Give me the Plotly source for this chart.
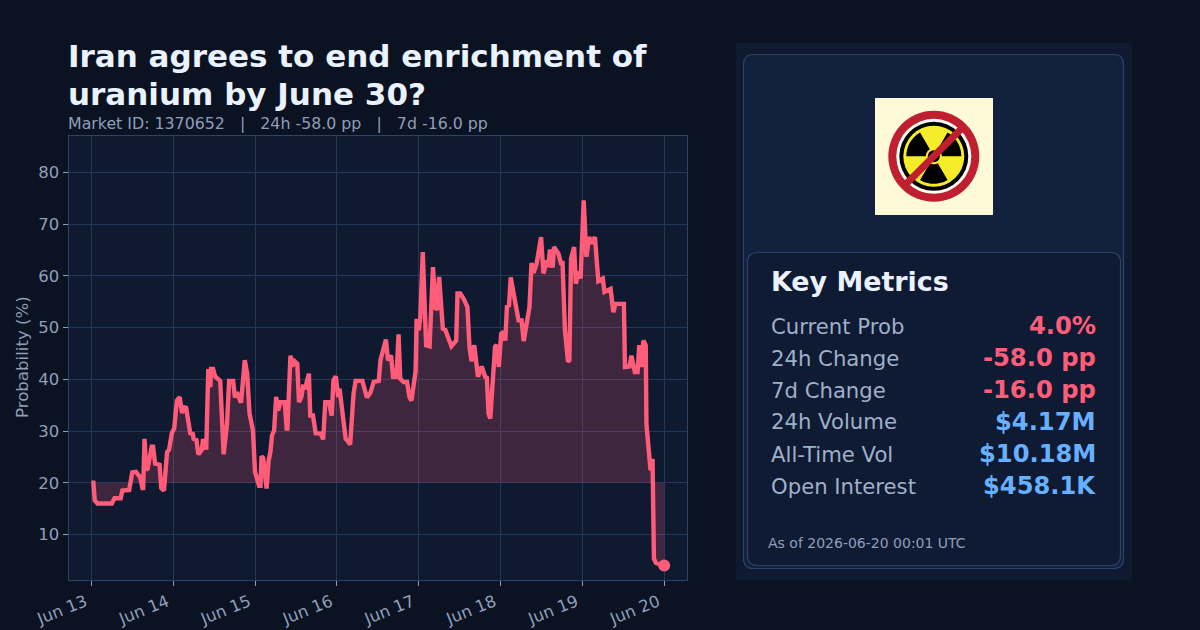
import math
from datetime import datetime, timedelta
import plotly.graph_objects as go

W, H = 1200, 630

TITLE_LINES = ["Iran agrees to end enrichment of", "uranium by June 30?"]
SUBTITLE = "Market ID: 1370652   |   24h -58.0 pp   |   7d -16.0 pp"
AS_OF = "As of 2026-06-20 00:01 UTC"

METRIC_LABELS = ["Current Prob", "24h Change", "7d Change", "24h Volume", "All-Time Vol", "Open Interest"]
METRIC_VALUES = ["4.0%", "-58.0 pp", "-16.0 pp", "$4.17M", "$10.18M", "$458.1K"]
METRIC_COLORS = ["#ff5c7a", "#ff5c7a", "#ff5c7a", "#66b0ff", "#66b0ff", "#66b0ff"]

START = datetime(2026, 6, 13)
BASELINE = 20

# Hours since the start of the window
hours = [
    0, .6, 1, 1.8, 6, 6.8, 8.6, 9.1, 11.1, 12, 13.1, 14.3, 15, 15.2, 15.6, 16.1, 16.5, 17.7, 18.1, 18.7,
    20, 20.5, 21.3, 22.2, 22.8, 23.6, 24.3, 25.1, 25.9, 26.6, 27.2, 27.8, 29, 29.8, 30, 30.8, 31.4, 32.4,
    32.7, 33.2, 33.7, 34.3, 34.9, 35.1, 35.7, 36.3, 37.8, 38.6, 38.8, 39.8, 40.4, 41.6, 42.1, 42.7, 43.9,
    45, 45.7, 46.4, 47.4, 48, 49.2, 49.6, 49.9, 50.4, 51.1, 51.4, 52, 52.5, 53, 53.6, 54.2, 54.8, 55.4,
    56.7, 57.3, 57.5, 58.4, 58.9, 59.6, 60.4, 60.9, 61.6, 62.1, 62.8, 63.8, 64.2, 65, 65.8, 67.3, 68, 68.6,
    69.7, 70.5, 71, 71.7, 72.4, 72.8, 73.6, 74.6, 75.1, 75.9, 76.9, 77.5, 79.5, 80.8, 81.9, 82.8, 84.3,
    84.8, 86.4, 87, 87.9, 88.5, 89.5, 90.1, 90.6, 91.6, 92.6, 93.3, 93.9, 95.1, 95.4, 96, 96.5, 97.2, 98.2,
    99.2, 100.2, 101, 101.4, 102, 103.1, 103.8, 105.6, 107, 107.4, 108.2, 109.2, 110.3, 110.9, 111.5, 112.3,
    113.4, 114.5, 115.5, 116, 116.5, 117, 118.4, 118.9, 119.5, 120.2, 120.9, 121.4, 121.9, 122.5, 123,
    125.3, 126.2, 126.8, 128.5, 129.1, 129.7, 130.6, 131.9, 132.6, 133.6, 134, 134.5, 135.3, 135.7, 137,
    137.7, 138.2, 138.9, 139.8, 140.2, 140.7, 141.6, 142.1, 142.8, 143.5, 144.4, 145.2, 146, 146.7, 147.7,
    148.7, 150, 150.5, 152.3, 153.1, 153.7, 156.2, 156.5, 157.8, 158.4, 159.4, 160.2, 160.7, 161.4, 161.9,
    162.6, 162.8, 163.6, 164, 164.6, 165, 165.6, 166.8, 168,
]

# Probability of the outcome, in percent
probability = [
    20, 20, 16.6, 16, 16, 17, 17, 18.5, 18.6, 22, 22.1, 21.1, 19, 19, 28.5, 22.5, 22.7, 27, 27, 23.7,
    23.5, 19, 18.5, 25.9, 26.4, 29.6, 30.5, 35.9, 36.6, 33.5, 34.6, 34.5, 29.6, 29.4, 28.5, 28.3, 25.5, 26.4,
    28.1, 28.1, 26.4, 42, 38.5, 42, 42, 40.6, 39.7, 25.5, 25.5, 31.4, 39.7, 39.7, 36.5, 37.5, 35.5,
    43.7, 41.1, 33.4, 30.1, 22.1, 19.4, 19.4, 25.1, 24.8, 18.9, 18.9, 24.3, 25.9, 29.2, 30.1, 36.6, 34, 35.6,
    35.6, 30.5, 30.5, 44.6, 42.5, 43.5, 43, 35.6, 36.6, 38.6, 38.5, 41.1, 33, 33, 29.6, 29.5, 28.4, 35.6,
    35.6, 33, 39.8, 40.6, 36.6, 38.2, 33.4, 28.5, 28.2, 27.4, 37.2, 39.7, 39.7, 36.5, 37.5, 39.5, 39.7,
    43.7, 47.7, 43.7, 44.6, 40.5, 40.5, 48.7, 40.1, 39.5, 39.5, 36.6, 35.9, 41.6, 51.7, 49.5, 52.1, 64.6, 46.6,
    46.4, 61.7, 53.5, 53.7, 59.8, 49.8, 49.6, 46.4, 47.5, 56.6, 56.6, 55.6, 54, 46.3, 43.5, 46.6,
    40.5, 42.5, 40.5, 40.3, 33.4, 32.4, 46.3, 46.6, 42.4, 48.8, 49.2, 47.5, 54.1, 54.3, 59.7,
    51.4, 51.4, 47.4, 54, 62.5, 60.6, 62.4, 67.5, 60.5, 63, 61.7, 65.1, 61.6, 65.6, 64.3,
    62.5, 62.5, 49.5, 43.4, 43.7, 63.4, 65.6, 58.5, 60.8, 59.5, 74.6, 63.7, 67.5, 66.3, 67.5,
    59, 59.5, 56.9, 57.5, 53, 54.6, 54.6, 42.4, 42.5, 44.6, 41.4, 41.4, 46.6, 42.4, 47.5,
    46.6, 31.4, 24.6, 22.4, 24.6, 5.3, 4.5, 4.3, 4,
]

times = [START + timedelta(hours=h) for h in hours]
tick_days = [START + timedelta(days=d) for d in range(8)]

PAGE = "#0b1222"
PLOT_BG = "#0f1a31"
GRID = "#24385a"
BORDER = "#2c4368"
MUTED = "#8f9fba"
LABEL = "#9fb0c9"
BRIGHT = "#eaf2ff"
PINK = "#ff5c7a"
FONT = "DejaVu Sans"


def px(x):
    return x / W


def py(y):
    return 1 - y / H


def rounded_box(x0, y0, x1, y1, r, fill, border, width=1.0):
    """Rounded rectangle given in page pixels, placed in paper coordinates."""
    path = (
        f"M {px(x0 + r)} {py(y0)} L {px(x1 - r)} {py(y0)} Q {px(x1)} {py(y0)} {px(x1)} {py(y0 + r)} "
        f"L {px(x1)} {py(y1 - r)} Q {px(x1)} {py(y1)} {px(x1 - r)} {py(y1)} "
        f"L {px(x0 + r)} {py(y1)} Q {px(x0)} {py(y1)} {px(x0)} {py(y1 - r)} "
        f"L {px(x0)} {py(y0 + r)} Q {px(x0)} {py(y0)} {px(x0 + r)} {py(y0)} Z"
    )
    return dict(type="path", xref="paper", yref="paper", path=path, fillcolor=fill,
                line=dict(color=border, width=width), layer="below")


def disc(cx, cy, r, fill):
    return dict(type="circle", xref="paper", yref="paper", x0=px(cx - r), x1=px(cx + r),
                y0=py(cy + r), y1=py(cy - r), fillcolor=fill, line=dict(width=0), layer="above")


def blade(cx, cy, r0, r1, a0, a1, fill):
    """Annular sector between two angles, in degrees counter-clockwise from east."""
    pts = []
    steps = 14
    for i in range(steps + 1):
        a = math.radians(a0 + (a1 - a0) * i / steps)
        pts.append((cx + r1 * math.cos(a), cy - r1 * math.sin(a)))
    for i in range(steps + 1):
        a = math.radians(a1 + (a0 - a1) * i / steps)
        pts.append((cx + r0 * math.cos(a), cy - r0 * math.sin(a)))
    path = "M " + " L ".join(f"{px(x)} {py(y)}" for x, y in pts) + " Z"
    return dict(type="path", xref="paper", yref="paper", path=path, fillcolor=fill,
                line=dict(width=0), layer="above")


def bar(cx, cy, half, thick, angle, fill):
    """Straight band through a centre point, used for the prohibition slash."""
    a = math.radians(angle)
    dx, dy = math.cos(a), -math.sin(a)
    nx, ny = -dy, dx
    t = thick / 2
    corners = [
        (cx - half * dx + t * nx, cy - half * dy + t * ny),
        (cx + half * dx + t * nx, cy + half * dy + t * ny),
        (cx + half * dx - t * nx, cy + half * dy - t * ny),
        (cx - half * dx - t * nx, cy - half * dy - t * ny),
    ]
    path = "M " + " L ".join(f"{px(x)} {py(y)}" for x, y in corners) + " Z"
    return dict(type="path", xref="paper", yref="paper", path=path, fillcolor=fill,
                line=dict(width=0), layer="above")


def text(x, y, s, size, color, anchor="left", bold=False, angle=0):
    """Text placed with its vertical middle at page pixel y."""
    return dict(xref="paper", yref="paper", x=px(x), y=py(y), text=f"<b>{s}</b>" if bold else s,
                showarrow=False, xanchor=anchor, yanchor="middle", textangle=angle,
                font=dict(family=FONT, size=size, color=color))


fig = go.Figure()
fig.add_trace(go.Scatter(x=times, y=[BASELINE] * len(times), mode="lines",
                         line=dict(width=0, color=PINK), hoverinfo="skip", showlegend=False))
fig.add_trace(go.Scatter(x=times, y=probability, mode="lines", fill="tonexty",
                         fillcolor="rgba(255,92,122,0.20)",
                         line=dict(color=PINK, width=4.4), showlegend=False))
fig.add_trace(go.Scatter(x=times[-1:], y=probability[-1:], mode="markers",
                         marker=dict(color=PINK, size=12), showlegend=False))

# Right-hand panel and its cards
shapes = [
    dict(type="rect", xref="paper", yref="paper", x0=px(736), x1=px(1132), y0=py(580), y1=py(43),
         fillcolor=PLOT_BG, line=dict(width=0), layer="below"),
    rounded_box(743.5, 54.5, 1123.5, 568.5, 10, "#12213d", BORDER, 1.2),
    rounded_box(747.5, 252.5, 1120.5, 565.5, 10, "#0f1a33", BORDER, 1.2),
]

# Badge: crossed-out radiation symbol
CX, CY = 933.8, 156.3
YELLOW = "#f5ec2a"
RED = "#c01f30"
shapes.append(dict(type="rect", xref="paper", yref="paper", x0=px(875), x1=px(993), y0=py(215), y1=py(98),
                   fillcolor="#fefad8", line=dict(width=0), layer="above"))
shapes += [
    disc(CX, CY, 45.5, RED),
    disc(CX, CY, 37.5, "#fffdf0"),
    disc(CX, CY, 34.5, "#000000"),
    disc(CX, CY, 30.5, YELLOW),
    blade(CX, CY, 8, 27.5, 120, 180, "#000000"),
    blade(CX, CY, 8, 27.5, 0, 60, "#000000"),
    blade(CX, CY, 8, 27.5, 240, 300, "#000000"),
    disc(CX, CY, 7.5, YELLOW),
    disc(CX, CY, 6, "#000000"),
    bar(CX, CY, 40, 7, 45, RED),
]

annotations = [
    text(66, 56, TITLE_LINES[0], 31, BRIGHT, bold=True),
    text(66, 94, TITLE_LINES[1], 31, BRIGHT, bold=True),
    text(66, 123.5, SUBTITLE, 15.8, MUTED),
    text(22, 357, "Probability (%)", 16.6, MUTED, anchor="center", angle=-90),
    text(769, 281, "Key Metrics", 26.9, BRIGHT, bold=True),
    text(766, 543, AS_OF, 14, MUTED),
]
for i, (lab, val, col) in enumerate(zip(METRIC_LABELS, METRIC_VALUES, METRIC_COLORS)):
    row_y = 326 + i * 32
    annotations.append(text(769, row_y, lab, 21.2, LABEL))
    annotations.append(text(1098, row_y, val, 24.2, col, anchor="right", bold=True))

fig.update_layout(
    width=W, height=H, margin=dict(l=0, r=0, t=0, b=0, autoexpand=False),
    paper_bgcolor=PAGE, plot_bgcolor=PLOT_BG,
    font=dict(family=FONT, color=MUTED),
    showlegend=False, shapes=shapes, annotations=annotations,
    xaxis=dict(
        domain=[px(68.5), px(687)], type="date",
        range=[START - timedelta(hours=6.7), START + timedelta(hours=174.7)],
        tickvals=tick_days, tickformat="%b %d", tickangle=-22,
        ticks="outside", ticklen=5, tickcolor=MUTED, tickwidth=1,
        ticklabelshift=-6,
        tickfont=dict(size=16.5, color=MUTED),
        showgrid=True, gridcolor=GRID, gridwidth=1,
        showline=True, linecolor=BORDER, linewidth=1, mirror=True, zeroline=False,
    ),
    yaxis=dict(
        domain=[py(580), py(135.5)], range=[1.2, 87.16], dtick=10, tick0=0,
        ticks="outside", ticklen=5, tickcolor=MUTED, tickwidth=1,
        tickfont=dict(size=16.5, color=MUTED),
        showgrid=True, gridcolor=GRID, gridwidth=1,
        showline=True, linecolor=BORDER, linewidth=1, mirror=True, zeroline=False,
    ),
)

fig.write_html("out.html")
